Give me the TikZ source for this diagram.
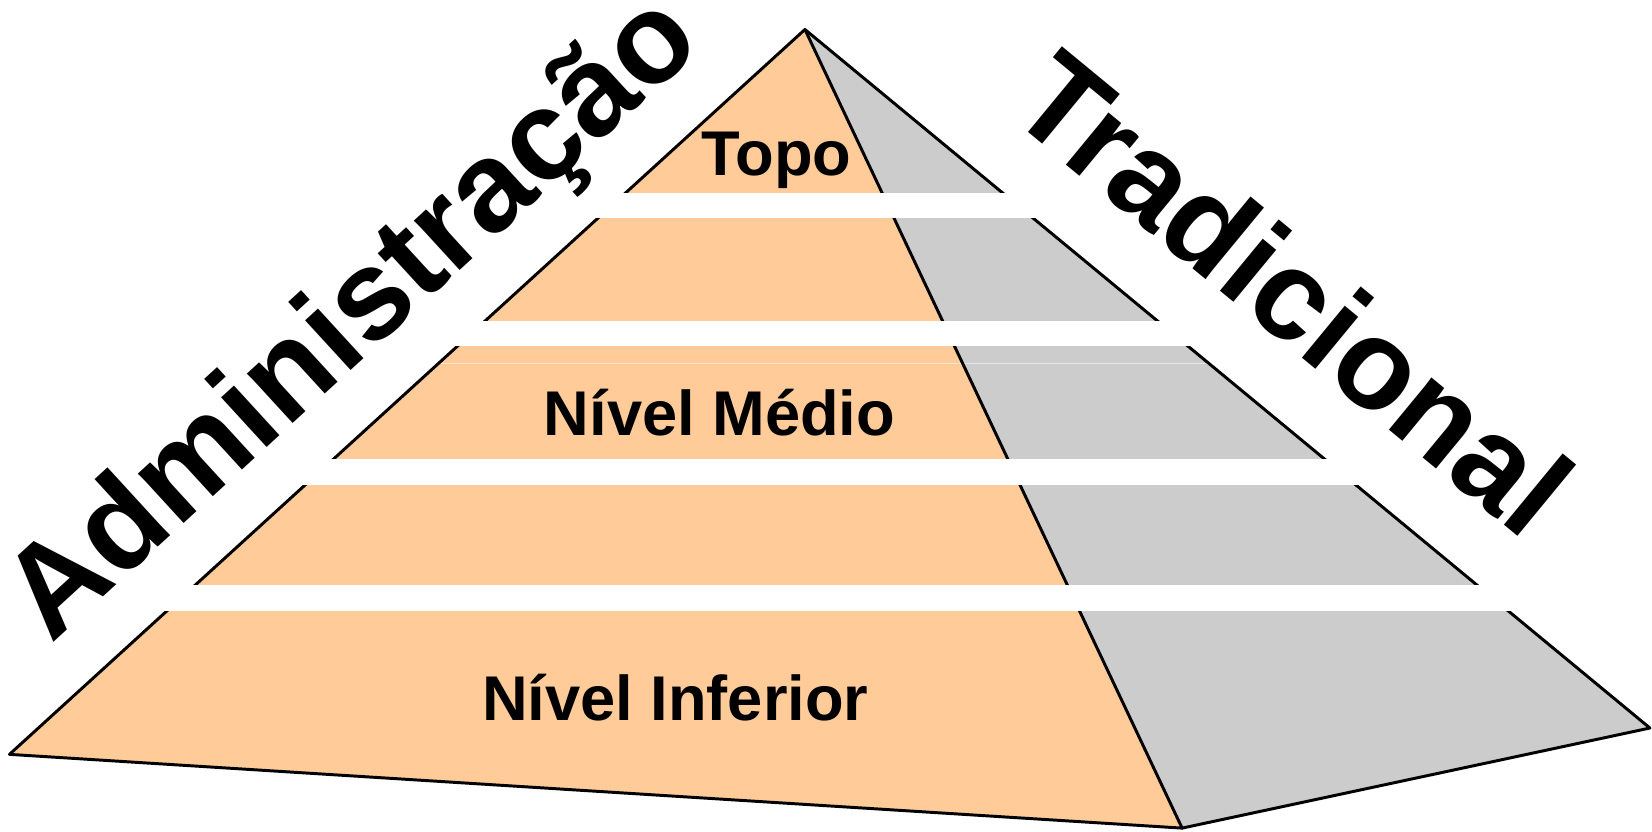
\documentclass[tikz,border=0pt]{standalone}
\usepackage{fontspec}
\setmainfont{Liberation Sans}
\definecolor{faceL}{HTML}{FFCC99}
\definecolor{faceR}{HTML}{CCCCCC}
\begin{document}
\begin{tikzpicture}[x=1pt,y=-1pt,
  edge/.style={line width=2.8pt,line join=round,line cap=round},
  gap/.style={fill=white},
  lvl/.style={inner sep=0pt,anchor=base,font=\bfseries\fontsize{60}{60}\selectfont},
  big/.style={inner sep=0pt,anchor=base west,font=\bfseries\fontsize{121}{121}\selectfont}]
\useasboundingbox (0,0) rectangle (1568,789);
\coordinate (A) at (764,28);
\coordinate (L) at (9,716);
\coordinate (F) at (1122,786);
\coordinate (R) at (1566,691);
% faces
\fill[faceL] (A) -- (L) -- (F) -- cycle;
\fill[faceR] (A) -- (F) -- (R) -- cycle;
% faint seam in the middle band
\begin{scope}
\clip (A) -- (L) -- (F) -- (R) -- cycle;
\draw[white,opacity=0.5,line width=0.7pt] (0,345) -- (1568,345);
\end{scope}
% edges
\draw[edge] (A) -- (L) -- (F) -- (R) -- cycle;
\draw[edge] (A) -- (F);
% gaps between levels
\fill[gap] (0,183) rectangle (1568,207);
\fill[gap] (0,305) rectangle (1568,328);
\fill[gap] (0,436) rectangle (1568,460);
\fill[gap] (0,555) rectangle (1568,580);
% level labels
\node[lvl] (topo) at (737,167) {Topo};
\node[lvl] (medio) at (683,413.5) {Nível Médio};
\node[lvl] (inferior) at (641,684) {Nível Inferior};
% side titles
\node[big,rotate=42.5] (adm) at (49,612) {Administração};
\node[big,rotate=-39.5] (trad) at (954,108) {Tradicional};
\end{tikzpicture}
\end{document}
